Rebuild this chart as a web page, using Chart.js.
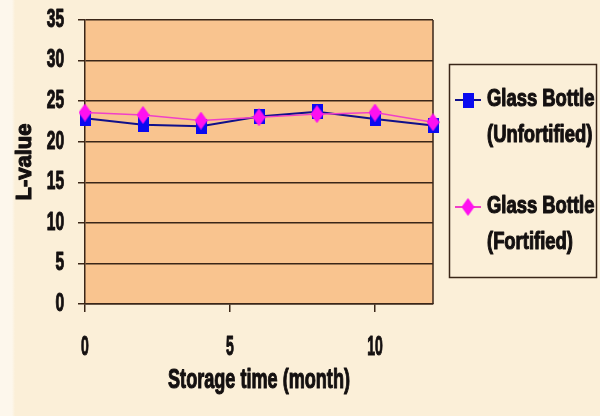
<!DOCTYPE html>
<html>
<head>
<meta charset="utf-8">
<script src="https://cdn.jsdelivr.net/npm/chart.js@4/dist/chart.umd.min.js"></script>
<style>
  html, body { margin: 0; padding: 0; }
  body { width: 600px; height: 416px; overflow: hidden; background: #FBEFD8; }
  #wrap {
    position: relative; width: 600px; height: 416px;
    background: linear-gradient(to right, #FDF7EC 0, #FDF7EC 12px, #FBEFD8 15px);
  }
  canvas { display: block; }
</style>
</head>
<body>
<div id="wrap"><canvas id="chart" width="600" height="416"></canvas></div>
<script>
// Storage time in months
const months = [0, 2, 4, 6, 8, 10, 12];
// L-value readings per series
const unfortified = [22.9, 22.1, 21.9, 23.1, 23.7, 22.8, 22.0];
const fortified   = [23.6, 23.3, 22.6, 23.0, 23.4, 23.6, 22.4];
// Axis tick values
const xTickValues = [0, 5, 10];
const yTickValues = [0, 5, 10, 15, 20, 25, 30, 35];
// Series names (two lines each in the legend)
const seriesUnfortified = ['Glass Bottle', '(Unfortified)'];
const seriesFortified   = ['Glass Bottle', '(Fortified)'];

const FONT = "'Liberation Sans', Arial, sans-serif";
const INK = '#141010';
const GRID = '#3a2618';

// Font sizes and the horizontal squeeze used to render each one as a narrow face
const SIZE_YTICK = 25, SIZE_XTICK = 28, SIZE_XTITLE = 27, SIZE_YTITLE = 22, SIZE_LEGEND = 23;
const SQUEEZE = { [SIZE_YTICK]: 0.62, [SIZE_XTICK]: 0.5, [SIZE_XTITLE]: 0.67, [SIZE_LEGEND]: 0.8 };

const canvas = document.getElementById('chart');
const ctx2d = canvas.getContext('2d');
const nativeFillText = ctx2d.fillText.bind(ctx2d);
const nativeStrokeText = ctx2d.strokeText.bind(ctx2d);
// Condensed heavy text: scale glyphs horizontally about the anchor and thicken the strokes
ctx2d.fillText = function (text, x, y) {
  const m = /(\d+(?:\.\d+)?)px/.exec(this.font);
  const k = m ? (SQUEEZE[Math.round(+m[1])] || 1) : 1;
  this.save();
  this.translate(x, y);
  this.scale(k, 1);
  nativeFillText(text, 0, 0);
  this.strokeStyle = this.fillStyle;
  this.lineWidth = 1.1;
  this.lineJoin = 'round';
  nativeStrokeText(text, 0, 0);
  this.restore();
};

// Marker bitmaps: a tall square and a tall diamond
function makeMarker(kind, w, h, fill) {
  const cv = document.createElement('canvas');
  cv.width = w; cv.height = h;
  const g = cv.getContext('2d');
  g.fillStyle = fill;
  if (kind === 'rect') {
    g.fillRect(0, 0, w, h);
  } else {
    g.beginPath();
    g.moveTo(w / 2, 0); g.lineTo(w, h / 2); g.lineTo(w / 2, h); g.lineTo(0, h / 2);
    g.closePath(); g.fill();
  }
  return cv;
}
const blueMark = makeMarker('rect', 11, 15, '#0A0AF0');
const pinkMark = makeMarker('diamond', 13, 18, '#FF10F0');

const toPoints = (ys) => months.map((m, i) => ({ x: m, y: ys[i] }));

// Plot area fill and right-hand frame line
const plotFrame = {
  id: 'plotFrame',
  beforeDraw(chart) {
    const { ctx, chartArea: a } = chart;
    ctx.save();
    ctx.fillStyle = '#F9C48F';
    ctx.fillRect(a.left, a.top, a.right - a.left, a.bottom - a.top);
    ctx.restore();
  },
  beforeDatasetsDraw(chart) {
    const { ctx, chartArea: a } = chart;
    ctx.save();
    ctx.strokeStyle = GRID;
    ctx.lineWidth = 1.5;
    ctx.beginPath();
    ctx.moveTo(a.right, a.top); ctx.lineTo(a.right, a.bottom);
    ctx.stroke();
    ctx.restore();
  }
};

// Boxed legend with two-line entries
const boxLegend = {
  id: 'boxLegend',
  afterDraw(chart) {
    const { ctx } = chart;
    ctx.save();
    ctx.strokeStyle = GRID;
    ctx.lineWidth = 1.5;
    ctx.strokeRect(449.5, 64.5, 147, 213);
    const rows = [100, 207];
    chart.data.datasets.forEach((ds, i) => {
      const y = rows[i];
      ctx.strokeStyle = ds.borderColor;
      ctx.lineWidth = 2;
      ctx.beginPath();
      ctx.moveTo(455, y); ctx.lineTo(481, y);
      ctx.stroke();
      const img = ds.pointStyle;
      ctx.drawImage(img, 468 - img.width / 2, y - img.height / 2);
      ctx.fillStyle = INK;
      ctx.font = 'bold ' + SIZE_LEGEND + 'px ' + FONT;
      ctx.textAlign = 'left';
      ctx.textBaseline = 'middle';
      ds.legendLines.forEach((t, k) => ctx.fillText(t, 487, y + k * 36));
    });
    ctx.restore();
  }
};

new Chart(canvas, {
  type: 'line',
  data: {
    datasets: [
      {
        label: seriesUnfortified.join(' '),
        legendLines: seriesUnfortified,
        data: toPoints(unfortified),
        borderColor: '#10108A',
        borderWidth: 2,
        pointStyle: blueMark,
        order: 1,
        clip: false
      },
      {
        label: seriesFortified.join(' '),
        legendLines: seriesFortified,
        data: toPoints(fortified),
        borderColor: '#F040C8',
        borderWidth: 1.5,
        pointStyle: pinkMark,
        order: 0,
        clip: false
      }
    ]
  },
  options: {
    responsive: false,
    animation: false,
    layout: { padding: { left: 0, top: 20, right: 167, bottom: 0 } },
    plugins: { legend: { display: false }, tooltip: { enabled: false } },
    elements: { line: { tension: 0 }, point: { radius: 7 } },
    scales: {
      x: {
        type: 'linear',
        min: 0, max: 12,
        afterBuildTicks: (s) => { s.ticks = xTickValues.map(v => ({ value: v })); },
        afterFit: (s) => { s.height = 112; s.paddingLeft = 0; s.paddingRight = 0; },
        grid: { display: true, drawOnChartArea: false, drawTicks: true, tickLength: 8, color: GRID, lineWidth: 1.5 },
        border: { display: true, color: GRID, width: 1.5 },
        ticks: { color: INK, padding: 18, maxRotation: 0, font: { family: FONT, size: SIZE_XTICK, weight: 'bold' } },
        title: {
          display: true, text: 'Storage time (month)', color: INK,
          font: { family: FONT, size: SIZE_XTITLE, weight: 'bold', lineHeight: 1 },
          padding: { top: 0, bottom: 22 }
        }
      },
      y: {
        type: 'linear',
        min: 0, max: 35,
        afterBuildTicks: (s) => { s.ticks = yTickValues.map(v => ({ value: v })); },
        afterFit: (s) => { s.width = 85; s.paddingTop = 0; s.paddingBottom = 0; },
        grid: { display: true, drawTicks: true, tickLength: 7, color: GRID, lineWidth: 1.5 },
        border: { display: true, color: GRID, width: 1.5 },
        ticks: { color: INK, padding: 14, font: { family: FONT, size: SIZE_YTICK, weight: 'bold', lineHeight: 1 } },
        title: {
          display: true, text: 'L-value', color: INK,
          font: { family: FONT, size: SIZE_YTITLE, weight: 'bold', lineHeight: 1 },
          padding: { top: 14, bottom: 0 }
        }
      }
    }
  },
  plugins: [plotFrame, boxLegend]
});
</script>
</body>
</html>
